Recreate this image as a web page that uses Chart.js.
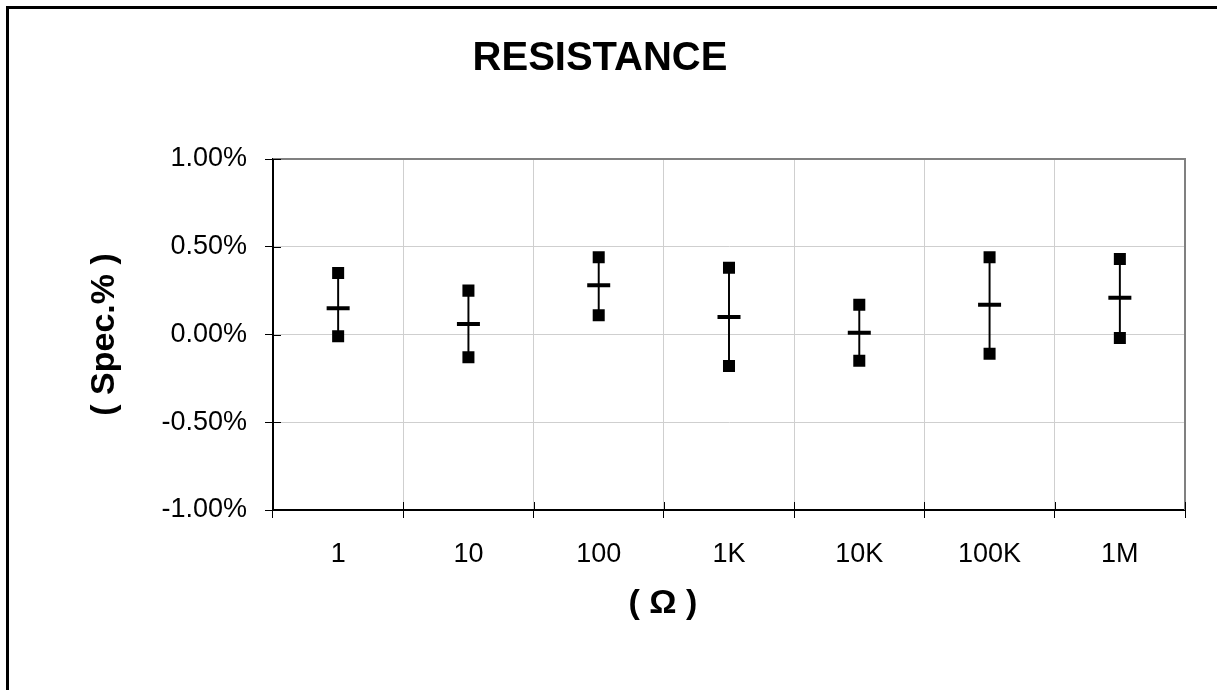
<!DOCTYPE html>
<html>
<head>
<meta charset="utf-8">
<script src="https://cdn.jsdelivr.net/npm/chart.js@4"></script>
<style>
  html, body { margin: 0; padding: 0; background: #fff; overflow: hidden; }
  canvas { display: block; }
</style>
</head>
<body>
<canvas id="resChart" width="1217" height="690"></canvas>
<script>
/* Resistance spec chart : min / mean / max per range */
const ranges = ['1', '10', '100', '1K', '10K', '100K', '1M'];
const maxVals = [0.35, 0.25, 0.44, 0.38, 0.17, 0.44, 0.43];
const meanVals = [0.15, 0.06, 0.28, 0.10, 0.01, 0.17, 0.21];
const minVals = [-0.01, -0.13, 0.11, -0.18, -0.15, -0.11, -0.02];
const yTicks = [-1, -0.5, 0, 0.5, 1];

Chart.defaults.font.family = "'Liberation Sans', Arial, sans-serif";
Chart.defaults.color = '#000';

// outer frame, plot frame (top/right) and the inner half of the tick marks
const framePlugin = {
  id: 'frame',
  beforeDraw(chart) {
    const ctx = chart.ctx;
    ctx.save();
    ctx.strokeStyle = '#000';
    ctx.lineWidth = 3;
    ctx.strokeRect(7.5, 7.5, chart.width + 50, chart.height + 50);
    ctx.restore();
  },
  afterDraw(chart) {
    const ctx = chart.ctx;
    const a = chart.chartArea;
    const xs = chart.scales.x;
    const ys = chart.scales.y;
    ctx.save();
    ctx.strokeStyle = '#808080';
    ctx.lineWidth = 2;
    ctx.beginPath();
    ctx.moveTo(a.left, a.top);
    ctx.lineTo(a.right, a.top);
    ctx.lineTo(a.right, a.bottom);
    ctx.stroke();

    ctx.strokeStyle = '#000';
    ctx.lineWidth = 1;
    ctx.beginPath();
    ys.ticks.forEach(t => {
      const y = Math.round(ys.getPixelForValue(t.value)) + 0.5;
      ctx.moveTo(a.left, y);
      ctx.lineTo(a.left + 8, y);
    });
    for (let i = 0; i <= ranges.length; i++) {
      const x = Math.round(xs.getPixelForValue(i - 0.5)) + 0.5;
      ctx.moveTo(x, a.bottom);
      ctx.lineTo(x, a.bottom - 8);
    }
    ctx.stroke();

    // x axis title, set a bit left of centre like the original
    ctx.font = "bold 34px 'Liberation Sans', Arial, sans-serif";
    ctx.fillStyle = '#000';
    ctx.textAlign = 'center';
    ctx.textBaseline = 'middle';
    ctx.fillText('( \u03A9 )', (a.left + a.right) / 2 - 66, a.bottom + 94);
    ctx.restore();
  }
};

const data = {
  labels: ranges,
  datasets: [
    {
      type: 'bar',
      label: 'range',
      data: minVals.map((v, i) => [v, maxVals[i]]),
      backgroundColor: '#000',
      borderWidth: 0,
      barThickness: 1.3,
      order: 3
    },
    {
      type: 'line',
      label: 'max',
      data: maxVals,
      showLine: false,
      pointStyle: 'rect',
      pointRadius: 8.5,
      pointBorderWidth: 0,
      pointBackgroundColor: '#000',
      order: 1
    },
    {
      type: 'line',
      label: 'min',
      data: minVals,
      showLine: false,
      pointStyle: 'rect',
      pointRadius: 8.5,
      pointBorderWidth: 0,
      pointBackgroundColor: '#000',
      order: 1
    },
    {
      type: 'line',
      label: 'mean',
      data: meanVals,
      showLine: false,
      pointStyle: 'line',
      pointRadius: 11.5,
      pointBorderWidth: 4,
      pointBorderColor: '#000',
      order: 2
    }
  ]
};

const config = {
  type: 'bar',
  data: data,
  plugins: [framePlugin],
  options: {
    responsive: false,
    animation: false,
    events: [],
    devicePixelRatio: 1,
    layout: {
      padding: { left: 15, right: 32, top: 12, bottom: 100 }
    },
    plugins: {
      legend: { display: false },
      tooltip: { enabled: false },
      title: {
        display: true,
        text: 'RESISTANCE',
        font: { size: 40, weight: 'bold' },
        color: '#000',
        padding: { top: 23, bottom: 76 }
      }
    },
    scales: {
      x: {
        offset: true,
        grid: {
          offset: true,
          color: '#cfcfcf',
          lineWidth: 1,
          tickColor: '#000',
          tickLength: 8,
          tickWidth: 1
        },
        border: { color: '#000', width: 2 },
        ticks: { font: { size: 27 }, padding: 20, color: '#000' },
        afterFit(scale) { scale.height = 80; }
      },
      y: {
        min: -1,
        max: 1,
        afterBuildTicks(scale) {
          scale.ticks = yTicks.map(v => ({ value: v }));
        },
        grid: {
          color: '#cfcfcf',
          lineWidth: 1,
          tickColor: '#000',
          tickLength: 8,
          tickWidth: 1
        },
        border: { color: '#000', width: 2 },
        ticks: {
          font: { size: 27 },
          padding: 18,
          color: '#000',
          callback: v => v.toFixed(2) + '%'
        },
        title: {
          display: true,
          text: '( Spec.% )',
          font: { size: 34, weight: 'bold' },
          color: '#000',
          padding: { top: 69, bottom: 0 }
        },
        afterFit(scale) { scale.width = 258; }
      }
    }
  }
};

var myChart = new Chart(
  document.getElementById('resChart'),
  config
);
</script>
</body>
</html>
